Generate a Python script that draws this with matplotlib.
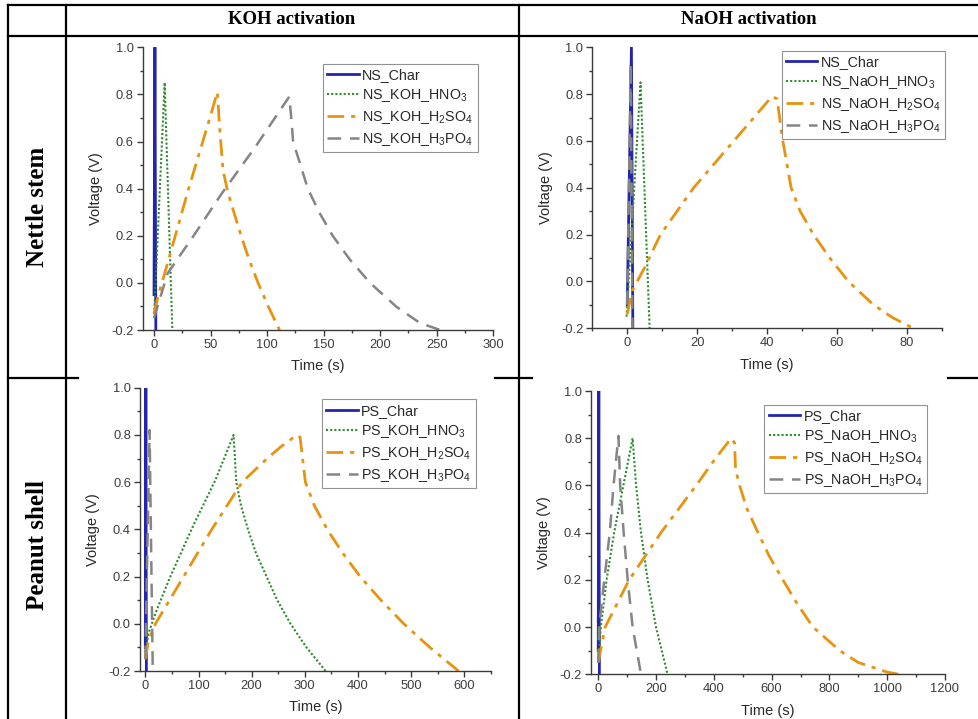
import matplotlib
matplotlib.use('Agg')
import matplotlib.pyplot as plt
from matplotlib.lines import Line2D
from matplotlib.ticker import MultipleLocator, FormatStrFormatter

# ---------------- data ----------------
# Nettle stem, KOH activation
ns_koh_char_t = [0, 0.8, 1.6]
ns_koh_char_v = [-0.05, 1.0, -0.2]
ns_koh_hno3_t = [0, 9.4, 16.2]
ns_koh_hno3_v = [-0.15, 0.85, -0.2]
ns_koh_h2so4_t = [0, 4, 10, 20, 30, 40, 50, 56, 58, 61, 65, 70, 77, 84, 92, 101, 111]
ns_koh_h2so4_v = [-0.13, -0.05, 0.05, 0.22, 0.39, 0.55, 0.71, 0.81, 0.66, 0.48, 0.39, 0.31, 0.2, 0.1, 0.0, -0.1, -0.2]
ns_koh_h3po4_t = [0, 5, 12, 35, 60, 90, 119.5, 121, 123, 136, 146, 158, 173, 191, 214, 235, 253]
ns_koh_h3po4_v = [-0.15, -0.07, 0.04, 0.2, 0.38, 0.58, 0.79, 0.72, 0.6, 0.4, 0.3, 0.2, 0.1, 0.0, -0.1, -0.17, -0.2]

# Nettle stem, NaOH activation
ns_naoh_char_t = [0, 1.2, 1.6]
ns_naoh_char_v = [-0.1, 1.0, -0.2]
ns_naoh_hno3_t = [-0.2, 3.8, 6.4]
ns_naoh_hno3_v = [-0.15, 0.85, -0.2]
ns_naoh_h2so4_t = [0, 1.4, 5, 9.5, 19, 30.5, 41.4, 42.9, 44.3, 46.9, 49.5, 53.3, 58, 63.3, 70.5, 76, 81.9]
ns_naoh_h2so4_v = [-0.14, -0.04, 0.06, 0.2, 0.4, 0.6, 0.79, 0.78, 0.62, 0.4, 0.3, 0.2, 0.1, 0.0, -0.1, -0.155, -0.2]
ns_naoh_h3po4_t = [0, 1.0, 1.5]
ns_naoh_h3po4_v = [-0.1, 0.93, -0.2]

# Peanut shell, KOH activation
ps_koh_char_t = [0, 1, 2]
ps_koh_char_v = [-0.1, 1.0, -0.2]
ps_koh_hno3_t = [0, 6, 20, 47, 91, 132, 166, 171, 180, 193, 208, 228, 248, 273, 303, 339]
ps_koh_hno3_v = [-0.12, -0.04, 0.05, 0.2, 0.42, 0.61, 0.8, 0.6, 0.5, 0.4, 0.3, 0.2, 0.1, 0.0, -0.1, -0.2]
ps_koh_h2so4_t = [0, 6, 19, 72, 125, 182, 229, 255, 285, 291, 301, 318, 342, 371, 404, 443, 486, 535, 589]
ps_koh_h2so4_v = [-0.15, -0.07, 0.0, 0.2, 0.4, 0.6, 0.7, 0.75, 0.8, 0.79, 0.6, 0.5, 0.4, 0.3, 0.2, 0.1, 0.0, -0.1, -0.2]
ps_koh_h3po4_t = [0, 8, 14]
ps_koh_h3po4_v = [-0.15, 0.82, -0.2]

# Peanut shell, NaOH activation
ps_naoh_char_t = [0, 2, 4]
ps_naoh_char_v = [-0.1, 1.0, -0.2]
ps_naoh_hno3_t = [0, 9, 29, 55, 87, 119, 131, 148, 171, 200, 240]
ps_naoh_hno3_v = [-0.15, 0.0, 0.2, 0.4, 0.6, 0.8, 0.6, 0.4, 0.2, 0.0, -0.2]
ps_naoh_h2so4_t = [0, 24, 107, 217, 339, 397, 460, 472, 475, 489, 515, 553, 592, 639, 688, 743, 836, 900, 998, 1040]
ps_naoh_h2so4_v = [-0.15, 0.0, 0.2, 0.4, 0.6, 0.7, 0.8, 0.78, 0.67, 0.6, 0.5, 0.4, 0.3, 0.2, 0.1, 0.0, -0.1, -0.15, -0.19, -0.2]
ps_naoh_h3po4_t = [0, 3, 21, 40, 53, 70, 76, 88, 102, 119, 148]
ps_naoh_h3po4_v = [-0.15, 0.0, 0.2, 0.4, 0.6, 0.81, 0.6, 0.4, 0.2, 0.0, -0.2]

col_headers = ['KOH activation', 'NaOH activation']
row_headers = ['Nettle stem', 'Peanut shell']

# ---------------- style ----------------
plt.rcParams['font.family'] = ['Liberation Sans', 'DejaVu Sans']
plt.rcParams['mathtext.fontset'] = 'custom'
plt.rcParams['mathtext.rm'] = 'Liberation Sans'
plt.rcParams['axes.unicode_minus'] = False

W, H = 979, 719
fig = plt.figure(figsize=(W / 100, H / 100), dpi=100)

C_BLUE = '#2424ad'
C_GREEN = '#2e8b2e'
C_ORANGE = '#e8930f'
C_GRAY = '#858585'
C_AX = '#3a3a3a'

def px_rect(x0, x1, ytop, ybot):
    return [x0 / W, (H - ybot) / H, (x1 - x0) / W, (ybot - ytop) / H]

def sub(s):
    return r'$_\mathregular{' + s + '}$'

panels = [
    dict(rect=px_rect(142.7, 493.3, 47.3, 330), xlim=(-10, 300), major=50, minor=25,
         leg=(0.514, 0.941), prefix='NS', act='KOH',
         data=[(ns_koh_char_t, ns_koh_char_v), (ns_koh_hno3_t, ns_koh_hno3_v),
               (ns_koh_h2so4_t, ns_koh_h2so4_v), (ns_koh_h3po4_t, ns_koh_h3po4_v)]),
    dict(rect=px_rect(592.3, 941.7, 47.3, 328.3), xlim=(-10, 90), major=20, minor=10,
         leg=(0.542, 0.987), prefix='NS', act='NaOH',
         data=[(ns_naoh_char_t, ns_naoh_char_v), (ns_naoh_hno3_t, ns_naoh_hno3_v),
               (ns_naoh_h2so4_t, ns_naoh_h2so4_v), (ns_naoh_h3po4_t, ns_naoh_h3po4_v)]),
    dict(rect=px_rect(140, 491, 387.7, 671), xlim=(-10, 650), major=100, minor=50,
         leg=(0.518, 0.959), prefix='PS', act='KOH',
         data=[(ps_koh_char_t, ps_koh_char_v), (ps_koh_hno3_t, ps_koh_hno3_v),
               (ps_koh_h2so4_t, ps_koh_h2so4_v), (ps_koh_h3po4_t, ps_koh_h3po4_v)]),
    dict(rect=px_rect(591, 945, 391, 674.3), xlim=(-25, 1200), major=200, minor=100,
         leg=(0.490, 0.951), prefix='PS', act='NaOH',
         data=[(ps_naoh_char_t, ps_naoh_char_v), (ps_naoh_hno3_t, ps_naoh_hno3_v),
               (ps_naoh_h2so4_t, ps_naoh_h2so4_v), (ps_naoh_h3po4_t, ps_naoh_h3po4_v)]),
]

styles = [
    dict(color=C_BLUE, lw=2.0, ls='-'),
    dict(color=C_GREEN, lw=1.5, ls=(0, (1, 1))),
    dict(color=C_ORANGE, lw=2.0, ls=(0, (6, 2.5, 1.5, 2.5))),
    dict(color=C_GRAY, lw=1.8, ls=(0, (5.5, 3.5))),
]

for p in panels:
    ax = fig.add_axes(p['rect'])
    pre, act = p['prefix'], p['act']
    labels = [pre + '_Char',
              pre + '_' + act + '_HNO' + sub('3'),
              pre + '_' + act + '_H' + sub('2') + 'SO' + sub('4'),
              pre + '_' + act + '_H' + sub('3') + 'PO' + sub('4')]
    for (t, v), st, lab in zip(p['data'], styles, labels):
        ax.plot(t, v, label=lab, **st)
    ax.set_xlim(*p['xlim'])
    ax.set_ylim(-0.2, 1.0)
    ax.xaxis.set_major_locator(MultipleLocator(p['major']))
    ax.xaxis.set_minor_locator(MultipleLocator(p['minor']))
    ax.yaxis.set_major_locator(MultipleLocator(0.2))
    ax.yaxis.set_minor_locator(MultipleLocator(0.1))
    ax.yaxis.set_major_formatter(FormatStrFormatter('%.1f'))
    for s in ['top', 'right']:
        ax.spines[s].set_visible(False)
    for s in ['left', 'bottom']:
        ax.spines[s].set_color(C_AX)
        ax.spines[s].set_linewidth(1.0)
    ax.tick_params(which='major', direction='out', length=4.5, width=1.0, color=C_AX,
                   labelsize=9.3, labelcolor='#3c3c3c', pad=2)
    ax.tick_params(which='minor', direction='out', length=2.5, width=1.0, color=C_AX)
    ax.set_xlabel('Time (s)', fontsize=10.5, color='#282828', labelpad=6)
    ax.set_ylabel('Voltage (V)', fontsize=10.5, color='#282828', labelpad=6)
    leg = ax.legend(loc='upper left', bbox_to_anchor=p['leg'], borderaxespad=0,
                    fontsize=10.3, frameon=True, fancybox=False, handlelength=2.2,
                    handletextpad=0.25, labelspacing=0.35, borderpad=0.3)
    leg.get_frame().set_edgecolor('#777777')
    leg.get_frame().set_linewidth(0.8)
    for txt in leg.get_texts():
        txt.set_color('#282828')

# ---------------- table lines ----------------
def hline(y, x0, x1, lw=1.6):
    fig.add_artist(Line2D([x0 / W, x1 / W], [1 - y / H, 1 - y / H], color='black', lw=lw,
                          transform=fig.transFigure))

def vline(x, y0, y1, lw=1.6):
    fig.add_artist(Line2D([x / W, x / W], [1 - y0 / H, 1 - y1 / H], color='black', lw=lw,
                          transform=fig.transFigure))

hline(5, 8, 979)
hline(36, 8, 979)
hline(378, 8, 78)
hline(378, 495, 532)
hline(378, 948, 979)
vline(8, 5, 719)
vline(66, 5, 719)
vline(519, 5, 719)

serif = ['Liberation Serif', 'DejaVu Serif']
fig.text(292 / W, 1 - 19 / H, col_headers[0], ha='center', va='center', fontsize=13.5,
         fontweight='bold', family=serif)
fig.text(749 / W, 1 - 19 / H, col_headers[1], ha='center', va='center', fontsize=13.5,
         fontweight='bold', family=serif)
fig.text(38 / W, 1 - 207 / H, row_headers[0], ha='center', va='center', fontsize=18,
         fontweight='bold', family=serif, rotation=90)
fig.text(38 / W, 1 - 545 / H, row_headers[1], ha='center', va='center', fontsize=18,
         fontweight='bold', family=serif, rotation=90)

fig.savefig('out.png', dpi=100)
